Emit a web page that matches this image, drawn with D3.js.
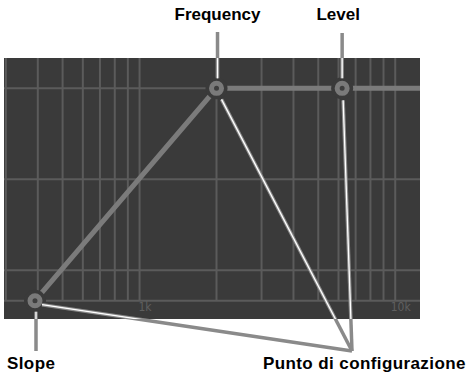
<!DOCTYPE html>
<html>
<head>
<meta charset="utf-8">
<script src="https://cdn.jsdelivr.net/npm/d3@7"></script>
<style>
  body { margin: 0; background: #fff; }
  svg { display: block; }
  .label { font-family: "Liberation Sans", Arial, Helvetica, sans-serif; font-weight: bold; font-size: 17px; fill: #000; }
  .label.bottom { letter-spacing: 0.4px; }
  .axis text { font-family: "Liberation Sans Narrow", "DejaVu Sans Condensed", sans-serif; font-size: 12px; fill: #5f5f5f; }
</style>
</head>
<body>
<svg width="474" height="375"></svg>
<script>
const width = 474,
      height = 375;

// frequency grid (Hz) and gain grid (dB)
const freqGrid = [300, 400, 500, 600, 700, 800, 900,
                  1000, 2000, 3000, 4000, 5000, 6000, 7000, 8000, 9000, 10000];
const freqLabels = [1000, 10000];
const gainGrid = [0, -6, -12, -14];

// EQ curve: slope, frequency, level, then out to the right edge
const curveFreq = [390, 2000, 6200, 12500];
const curveGain = [-14, 0, 0, 0];

// the three setting points
const pointNames = ['Slope', 'Frequency', 'Level'];
const pointFreq = [390, 2000, 6200];
const pointGain = [-14, 0, 0];

const x = d3.scaleLog()
            .domain([295, 12500])
            .range([4, 420]);

const y = d3.scaleLinear()
            .domain([2, -14])
            .range([58, 300.7]);

const panelBottom = 319;
const bg = '#3a3a3a';

const svg = d3.select('svg');

// panel
svg.append('rect')
    .attr('x', x.range()[0])
    .attr('y', y.range()[0])
    .attr('width', x.range()[1] - x.range()[0])
    .attr('height', panelBottom - y.range()[0])
    .attr('fill', bg);

svg.append('clipPath')
    .attr('id', 'panel')
  .append('rect')
    .attr('x', x.range()[0])
    .attr('y', y.range()[0])
    .attr('width', x.range()[1] - x.range()[0])
    .attr('height', panelBottom - y.range()[0]);

const grid = svg.append('g')
    .attr('clip-path', 'url(#panel)')
    .attr('stroke', '#5b5b5b')
    .attr('stroke-width', 2);

grid.selectAll('.vline')
  .data(freqGrid)
  .enter()
  .append('line')
    .classed('vline', true)
    .attr('x1', (d) => x(d))
    .attr('x2', (d) => x(d))
    .attr('y1', y.range()[0])
    .attr('y2', y.range()[1]);

grid.selectAll('.hline')
  .data(gainGrid)
  .enter()
  .append('line')
    .classed('hline', true)
    .attr('x1', x.range()[0])
    .attr('x2', x.range()[1])
    .attr('y1', (d) => y(d))
    .attr('y2', (d) => y(d));

// axis labels in the bottom strip
const axis = svg.append('g')
    .classed('axis', true)
    .attr('transform', `translate(0, ${y.range()[1]})`)
    .call(d3.axisBottom(x)
            .tickValues(freqLabels)
            .tickFormat((d) => (d / 1000) + 'k')
            .tickSize(0));

axis.select('.domain').remove();
axis.selectAll('text')
    .attr('dx', 5)
    .attr('dy', '0.6em');

// curve
const curve = curveFreq.map((f, i) => ({ f: f, g: curveGain[i] }));
const line = d3.line()
               .x((d) => x(d.f))
               .y((d) => y(d.g));

svg.append('path')
    .datum(curve)
    .attr('clip-path', 'url(#panel)')
    .attr('d', line)
    .attr('fill', 'none')
    .attr('stroke', '#7b7b7b')
    .attr('stroke-width', 5);

const points = pointNames.map((n, i) => ({ name: n, f: pointFreq[i], g: pointGain[i] }));

// markers: halo, ring
const markers = svg.selectAll('.marker')
  .data(points)
  .enter()
  .append('g')
    .classed('marker', true)
    .attr('transform', (d) => `translate(${x(d.f)}, ${y(d.g)})`);

markers.append('circle')
    .attr('r', 11)
    .attr('fill', bg);

markers.append('circle')
    .attr('r', 5)
    .attr('fill', '#3e3e3e')
    .attr('stroke', '#7a7a7a')
    .attr('stroke-width', 5);

// callouts: gray line with a white core inside the panel
function callout(x1, y1, x2, y2) {
  svg.append('line')
      .attr('x1', x1).attr('y1', y1).attr('x2', x2).attr('y2', y2)
      .attr('stroke', '#8a8a8a')
      .attr('stroke-width', 3.5);
  svg.append('line')
      .attr('clip-path', 'url(#panel)')
      .attr('x1', x1).attr('y1', y1).attr('x2', x2).attr('y2', y2)
      .attr('stroke', '#fff')
      .attr('stroke-width', 1.3);
}

const hub = { x: 352, y: 351 };
const pSlope = points[0], pFreq = points[1], pLevel = points[2];

callout(x(pFreq.f) + 1, 32, x(pFreq.f) + 1, y(pFreq.g) - 10);
callout(x(pLevel.f), 33, x(pLevel.f), y(pLevel.g) - 10);
callout(x(pSlope.f) + 1, y(pSlope.g) + 11, x(pSlope.f) + 1, 351);

callout(x(pSlope.f) + 7, y(pSlope.g) + 4, hub.x, hub.y);
callout(x(pFreq.f) + 5, y(pFreq.g) + 11, hub.x, hub.y);
callout(x(pLevel.f) + 1, y(pLevel.g) + 12, hub.x, hub.y);

// labels
svg.append('text').classed('label', true)
    .attr('x', x(pFreq.f) + 1).attr('y', 20)
    .attr('text-anchor', 'middle')
    .text('Frequency');

svg.append('text').classed('label', true)
    .attr('x', x(pLevel.f) - 4).attr('y', 20)
    .attr('text-anchor', 'middle')
    .text('Level');

svg.append('text').classed('label bottom', true)
    .attr('x', 7).attr('y', 369)
    .text('Slope');

svg.append('text').classed('label bottom', true)
    .attr('x', 263).attr('y', 369)
    .text('Punto di configurazione');
</script>
</body>
</html>
